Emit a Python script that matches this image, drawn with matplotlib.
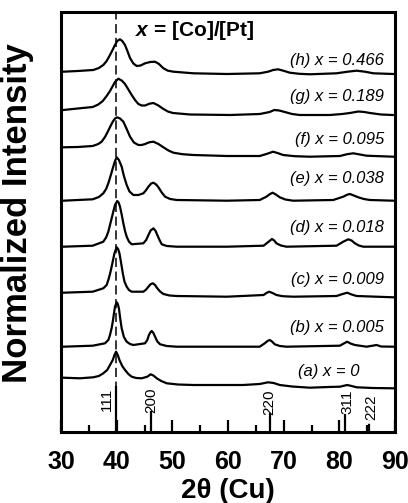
import matplotlib
matplotlib.use("Agg")
import matplotlib.pyplot as plt

plt.rcParams['font.family'] = ['Liberation Sans', 'DejaVu Sans']
plt.rcParams['mathtext.fontset'] = 'custom'
plt.rcParams['mathtext.it'] = 'Liberation Sans:italic:bold'
plt.rcParams['mathtext.rm'] = 'Liberation Sans:bold'

# samples, bottom to top
names = ['(a) x = 0', '(b) x = 0.005', '(c) x = 0.009', '(d) x = 0.018',
         '(e) x = 0.038', '(f) x = 0.095', '(g) x = 0.189', '(h) x = 0.466']
offsets = [40, 80, 130, 180, 225, 270, 310, 350]

tt_a = [30.4, 33.4, 35.8, 36.8, 37.6, 38.3, 38.8, 39.3, 39.6, 39.9, 40.2, 40.5, 41.0, 41.5,
        42.1, 42.7, 43.5, 44.5, 45.5, 46.1, 46.6, 47.2, 48.0, 49.0, 51.0, 53.8, 62.7, 65.7,
        67.2, 68.2, 69.3, 71.5, 74.7, 78.0, 80.1, 81.4, 82.2, 83.1, 86.0, 89.7]
int_a = [14.3, 13.7, 14.7, 16, 18.7, 22, 27, 32, 37, 40.3, 37, 32, 26, 22,
         18, 15.3, 14, 13.7, 15.3, 17.7, 16.5, 13.7, 11, 8.7, 7.5, 7, 7, 8,
         9.7, 9, 7, 5.5, 4.3, 5, 5.3, 7, 6, 4.7, 4, 3.7]

tt_b = [30.4, 35.7, 37.9, 38.5, 38.8, 39.1, 39.3, 39.5, 39.7, 40.0, 40.2, 40.4, 40.65, 40.9,
        41.3, 41.8, 42.4, 43.0, 45.1, 45.5, 45.8, 46.1, 46.3, 46.6, 46.9, 47.3, 47.8, 49.0,
        50.8, 65.7, 66.6, 67.1, 67.5, 67.9, 68.4, 69.3, 70.5, 80.1, 80.8, 81.4, 82.0, 82.8,
        84.9, 86.7, 87.5, 89.7]
int_b = [5.3, 6.3, 8.7, 12, 17, 24, 30.3, 38, 45.3, 49.7, 48, 43.7, 33, 23.7,
         15, 10.3, 8, 7, 8.7, 12, 17, 20, 21, 19, 15.3, 10.5, 7.7, 6,
         5.3, 5.3, 8.7, 11, 12, 10.5, 7.7, 6, 5.3, 6.3, 8.5, 10.3, 8.5, 7,
         5.3, 7, 5.5, 5.3]

tt_c = [30.4, 35.7, 37.6, 38.2, 38.5, 38.8, 39.1, 39.35, 39.6, 40.0, 40.25, 40.5, 40.8, 41.1,
        41.4, 41.8, 42.2, 42.7, 44.8, 45.3, 45.7, 46.1, 46.5, 46.9, 47.3, 47.8, 48.4, 49.5,
        50.8, 59.8, 66.4, 66.9, 67.4, 68.0, 68.7, 69.8, 71.7, 79.5, 80.6, 81.4, 82.2, 83.1,
        89.7]
int_c = [9.3, 10.3, 13.7, 17, 22, 28, 35.3, 42, 48.7, 54.7, 53, 48.7, 39, 28.7,
         20.5, 15.3, 12, 10.3, 10.3, 12.5, 15.3, 17.8, 18.7, 17, 13.7, 10.5, 8, 6.5,
         6, 5.3, 7, 9, 10.3, 9, 7, 5.8, 5.3, 6, 8, 9.3, 7.5, 6,
         4.7]

tt_d = [30.4, 35.7, 37.6, 38.1, 38.5, 38.8, 39.1, 39.4, 39.7, 40.1, 40.35, 40.6, 40.9, 41.2,
        41.5, 41.8, 42.2, 42.7, 44.8, 45.3, 45.7, 46.1, 46.6, 47.0, 47.3, 47.7, 48.1, 49.0,
        50.8, 59.8, 66.4, 67.3, 67.9, 68.3, 68.7, 69.5, 70.5, 79.5, 80.7, 81.6, 82.2, 82.8,
        83.5, 84.3, 89.7]
int_d = [5.3, 6.3, 10.3, 14.5, 20.3, 27, 33.7, 40.5, 47, 51, 49.5, 45.3, 37.5, 28.7,
         21, 15.3, 10.5, 7.7, 8.7, 12, 17, 21.5, 23.7, 21, 17, 12, 7.7, 6,
         5.3, 5.3, 6.3, 10.3, 13, 11.5, 8.7, 6.5, 5.3, 6.3, 10.3, 12.7, 11.5, 8.7,
         6.5, 5.3, 5.3]

tt_e = [30.4, 35.7, 36.8, 37.6, 38.1, 38.5, 38.9, 39.3, 39.7, 40.0, 40.4, 40.9, 41.3, 41.8,
        42.3, 43.0, 43.9, 44.8, 45.3, 45.7, 46.2, 46.6, 47.1, 47.5, 48.1, 48.7, 49.6, 50.8,
        59.8, 65.7, 66.9, 67.5, 68.0, 68.6, 69.3, 70.3, 71.7, 78.9, 80.7, 81.4, 81.9, 82.6,
        83.4, 84.4, 85.5, 89.7]
int_e = [6.3, 7.7, 10, 13.7, 18, 23.7, 31, 38.7, 46, 49.7, 47, 40.3, 31, 22,
         15.5, 12, 12, 13.7, 17, 20.3, 23.5, 24.3, 22.5, 19.7, 14.5, 10.3, 8, 7,
         6.3, 7, 10.3, 12.8, 14.3, 12.5, 9.7, 7.5, 6.3, 7, 10.3, 12.3, 13, 11.5,
         9.7, 8, 7, 6.3]

tt_f = [30.4, 33.0, 35.7, 36.7, 37.3, 37.9, 38.4, 38.9, 39.3, 39.7, 40.1, 40.6, 41.2, 41.8,
        42.4, 43.1, 43.9, 44.5, 45.1, 45.9, 46.6, 47.5, 48.4, 49.3, 50.2, 51.8, 53.8, 59.8,
        65.7, 66.9, 68.1, 69.0, 69.9, 72.0, 74.7, 80.1, 81.4, 82.5, 83.7, 84.9, 89.7]
int_f = [14.7, 15, 16, 18, 20.3, 25, 30.3, 36, 40.3, 43.5, 44.7, 43.5, 40.3, 33,
         25.3, 19.5, 17, 17, 18, 19.8, 20.3, 18, 14.7, 11.5, 9.3, 7.8, 7, 6,
         6, 8, 10.3, 8.8, 7, 5.8, 5.3, 6, 7.8, 8.7, 7.5, 6.3, 5.3]

tt_g = [30.4, 33.0, 35.7, 36.7, 37.5, 38.2, 38.8, 39.3, 39.7, 40.3, 40.9, 41.5, 42.1, 42.7,
        43.3, 43.9, 44.5, 45.1, 45.9, 46.6, 47.5, 48.4, 49.2, 50.1, 53.2, 60.4, 65.7, 67.5,
        68.3, 69.2, 70.2, 71.5, 72.9, 78.3, 80.5, 81.9, 83.4, 84.5, 85.5, 87.5, 89.6]
int_g = [12, 13.5, 15, 17.5, 21, 26, 31, 36, 40, 43.3, 41.5, 38, 32.5, 27,
         22, 18, 16.5, 16.5, 18.3, 19, 16.5, 13, 10.5, 9, 7.5, 7, 8, 10,
         12, 11.5, 10, 8, 7, 7, 8, 9, 10.5, 10, 9, 7.5, 7]

tt_h = [30.4, 33.0, 35.8, 36.8, 37.6, 38.2, 38.8, 39.3, 39.7, 40.1, 40.6, 41.0, 41.5, 42.0,
        42.4, 43.0, 43.6, 44.3, 45.1, 46.0, 46.9, 47.6, 48.4, 49.2, 50.2, 53.8, 59.8, 65.7,
        67.2, 68.1, 69.0, 70.0, 71.1, 72.8, 74.7, 79.5, 81.5, 83.1, 84.6, 86.1, 89.7]
int_h = [10.3, 11, 12, 14, 17, 21, 27, 32.5, 37, 41, 42.7, 41, 37, 30,
         24, 18.5, 16, 16.5, 18.7, 20, 20.3, 18, 13.7, 11.3, 10.3, 8.7, 8, 8.7,
         10.3, 12, 12.7, 11.2, 9.3, 8.2, 7.7, 8.7, 10.3, 11.3, 10.3, 8.7, 8]

curves = [(tt_a, int_a), (tt_b, int_b), (tt_c, int_c), (tt_d, int_d),
          (tt_e, int_e), (tt_f, int_f), (tt_g, int_g), (tt_h, int_h)]

# Pt reference lines
ref_hkl = ['111', '200', '220', '311', '222']
ref_pos = [39.9, 46.2, 67.5, 81.1, 85.4]
ref_height = [45, 20, 18, 17, 12]

fig = plt.figure(figsize=(4.08, 5.03), dpi=100)
ax = fig.add_axes([61 / 408, 1 - 432 / 503, 334 / 408, 420 / 503])

for (tt, inten), off in zip(curves, offsets):
    ax.plot(tt, [v + off for v in inten], color='black', lw=1.6, solid_joinstyle='round')

label_x = [83.7, 88, 88, 88, 88, 88, 88, 88]
label_y = [60.5, 104.5, 152.5, 204.5, 253.5, 292.5, 335, 372]
for name, lx, ly in zip(names, label_x, label_y):
    ax.text(lx, ly, name, ha='right', va='center', fontsize=12, style='italic')

ax.axvline(39.9, color='black', lw=1.1, ls=(0, (6, 3)))

for hkl, pos, h in zip(ref_hkl, ref_pos, ref_height):
    ls = '--' if hkl == '222' else '-'
    ax.plot([pos, pos], [0, h], color='black', lw=1.6, ls=ls)
    if hkl == '111':
        ax.text(pos - 1.6, h - 12, hkl, rotation=90, ha='center', va='center', fontsize=11)
    else:
        ax.text(pos + 0.3 if hkl in ('311', '222') else pos, h + 12 if hkl in ('200', '220') else h + 13,
                hkl, rotation=90, ha='center', va='center', fontsize=11)

ax.text(43.3, 402, '$x$ = [Co]/[Pt]', ha='left', va='center', fontsize=15, fontweight='bold')

ax.set_xlim(30, 90)
ax.set_ylim(0, 420)
ax.set_yticks([])
ax.set_xticks([30, 40, 50, 60, 70, 80, 90])
ax.set_xticks([35, 45, 55, 65, 75, 85], minor=True)
ax.tick_params(axis='x', which='major', direction='in', length=9, width=1.6, pad=13, labelsize=18)
ax.tick_params(axis='x', which='minor', direction='in', length=5, width=1.6)
for lab in ax.get_xticklabels():
    lab.set_fontweight('bold')
for sp in ax.spines.values():
    sp.set_linewidth(2.2)

ax.set_xlabel('2θ (Cu)', fontsize=20, fontweight='bold', labelpad=3)
fig.text(18 / 408, 1 - 213 / 503, 'Normalized Intensity', rotation=90, ha='center', va='center',
         fontsize=25, fontweight='bold')

fig.savefig('out.png', dpi=100)
